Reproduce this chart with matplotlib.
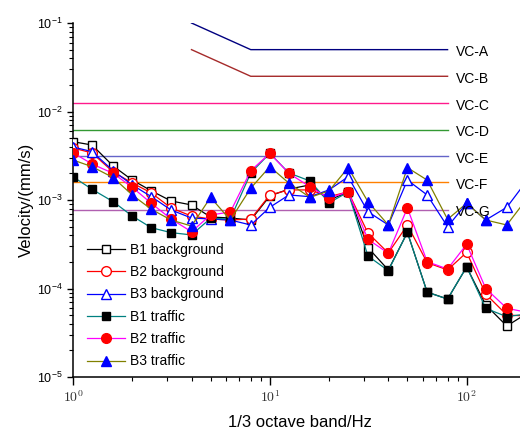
import matplotlib
matplotlib.use("Agg")
import matplotlib.pyplot as plt
from matplotlib.ticker import LogLocator, NullFormatter

plt.rcParams['font.family'] = ['Liberation Sans', 'DejaVu Sans']
plt.rcParams['mathtext.fontset'] = 'custom'
plt.rcParams['mathtext.rm'] = 'Liberation Sans'
plt.rcParams['mathtext.it'] = 'Liberation Sans:italic'
plt.rcParams['mathtext.bf'] = 'Liberation Sans:bold'

# 1/3 octave band centre frequencies (Hz)
freqs = [1, 1.25, 1.6, 2, 2.5, 3.15, 4, 5, 6.3, 8, 10, 12.5, 16, 20, 25,
         31.5, 40, 50, 63, 80, 100, 125, 160, 200]

# velocity (mm/s)
b1_bg = [4.56e-3, 4.18e-3, 2.42e-3, 1.68e-3, 1.27e-3, 9.75e-4, 8.79e-4, 6.43e-4,
         6.26e-4, 5.94e-4, 1.11e-3, 1.33e-3, 1.48e-3, 1.00e-3, 1.23e-3, 2.9e-4,
         1.62e-4, 4.3e-4, 9.12e-5, 7.60e-5, 1.75e-4, 6.52e-5, 3.77e-5, 5.15e-5]
b2_bg = [3.87e-3, 3.40e-3, 2.07e-3, 1.56e-3, 1.20e-3, 8.13e-4, 6.59e-4, 6.10e-4,
         5.94e-4, 6.10e-4, 1.14e-3, 1.30e-3, 1.30e-3, 1.09e-3, 1.24e-3, 4.24e-4,
         2.52e-4, 5.22e-4, 1.96e-4, 1.62e-4, 2.56e-4, 8.67e-5, 5.02e-5, 4.89e-5]
b3_bg = [3.97e-3, 3.52e-3, 2.14e-3, 1.48e-3, 1.09e-3, 7.71e-4, 6.26e-4, 6.10e-4,
         5.94e-4, 5.22e-4, 8.27e-4, 1.14e-3, 1.09e-3, 1.30e-3, 1.83e-3, 7.38e-4,
         5.22e-4, 1.68e-3, 1.14e-3, 4.99e-4, 9.18e-4, 5.94e-4, 8.27e-4, 1.6e-3]
b1_tr = [1.83e-3, 1.32e-3, 9.57e-4, 6.59e-4, 4.86e-4, 4.28e-4, 4.03e-4, 6.21e-4,
         6.10e-4, 2.02e-3, 3.37e-3, 2.02e-3, 1.64e-3, 9.31e-4, 1.23e-3, 2.33e-4,
         1.59e-4, 4.32e-4, 9.06e-5, 7.60e-5, 1.76e-4, 5.97e-5, 4.80e-5, 5.15e-5]
b2_tr = [3.42e-3, 2.55e-3, 2.00e-3, 1.39e-3, 9.18e-4, 6.10e-4, 4.38e-4, 6.77e-4,
         7.32e-4, 2.14e-3, 3.37e-3, 2.00e-3, 1.41e-3, 1.05e-3, 1.24e-3, 3.60e-4,
         2.50e-4, 8.13e-4, 2.01e-4, 1.66e-4, 3.16e-4, 1.00e-4, 5.97e-5, 5.42e-5]
b3_tr = [2.83e-3, 2.38e-3, 1.79e-3, 1.14e-3, 7.85e-4, 5.94e-4, 5.08e-4, 1.07e-3,
         5.94e-4, 1.36e-3, 2.38e-3, 1.55e-3, 1.07e-3, 1.27e-3, 2.32e-3, 9.57e-4,
         5.22e-4, 2.32e-3, 1.68e-3, 6.05e-4, 9.18e-4, 5.94e-4, 5.22e-4, 1.0e-3]

# VC criteria curves
vc_names = ["VC-A", "VC-B", "VC-C", "VC-D", "VC-E", "VC-F", "VC-G"]
vc_freq_ab = [4, 8, 80]
vc_a = [0.1, 0.05, 0.05]
vc_b = [0.05, 0.025, 0.025]
vc_freq_flat = [1, 80]
vc_flat = [0.0125, 0.00625, 0.003125, 0.0016, 0.00078]
vc_colors = ["#000080", "#a52a2a", "#ff1a8c", "#339933", "#6464c8", "#ff8000", "#b060b0"]

fig = plt.figure(figsize=(5.2, 4.32), dpi=100)
ax = fig.add_axes([73 / 520, 55 / 432, 452.9 / 520, 354 / 432])

vc_vals = []
ax.plot(vc_freq_ab, vc_a, color=vc_colors[0], lw=1, zorder=1)
ax.plot(vc_freq_ab, vc_b, color=vc_colors[1], lw=1, zorder=1)
vc_vals += [vc_a[-1], vc_b[-1]]
for v, c in zip(vc_flat, vc_colors[2:]):
    ax.plot(vc_freq_flat, [v, v], color=c, lw=1, zorder=1)
    vc_vals.append(v)
for name, v in zip(vc_names, vc_vals):
    ax.annotate(name, (88, v), xytext=(0, -2), textcoords="offset points",
                ha="left", va="center", fontsize=10, zorder=5)

series = [
    ("B1 background", b1_bg, "k", "s", "k", "white"),
    ("B2 background", b2_bg, "red", "o", "red", "white"),
    ("B3 background", b3_bg, "blue", "^", "blue", "white"),
    ("B1 traffic", b1_tr, "#008080", "s", "k", "k"),
    ("B2 traffic", b2_tr, "#ff00ff", "o", "red", "red"),
    ("B3 traffic", b3_tr, "#808000", "^", "blue", "blue"),
]
for label, vals, lc, mk, mec, mfc in series:
    ms = 6 if mk == "s" else 7
    ax.plot(freqs, vals, color=lc, lw=0.9, marker=mk, ms=ms, mec=mec, mfc=mfc,
            mew=1, label=label, zorder=3)

ax.set_xscale("log")
ax.set_yscale("log")
ax.set_xlim(1, 200)
ax.set_ylim(1e-5, 1e-1)
ax.spines["top"].set_visible(False)
ax.spines["right"].set_visible(False)
ax.yaxis.set_major_locator(LogLocator(base=10, numticks=10))
ax.xaxis.set_minor_formatter(NullFormatter())
ax.yaxis.set_minor_formatter(NullFormatter())
ax.tick_params(axis="y", which="major", direction="out", length=4.5, width=1, labelsize=9, pad=3)
ax.tick_params(axis="y", which="minor", direction="out", length=3, width=0.8)
ax.tick_params(axis="x", which="major", direction="out", length=6, width=1, labelsize=10, pad=3)
ax.tick_params(axis="x", which="minor", direction="out", length=3, width=0.8)
for s in ("left", "bottom"):
    ax.spines[s].set_linewidth(1.1)

ax.set_xticks([1, 10, 100], labels=[r"$10^{0}$", r"$10^{1}$", r"$10^{2}$"])
for lbl in ax.get_xticklabels():
    lbl.set_math_fontfamily("cm")
    lbl.set_color("#333333")

ax.set_xlabel("1/3 octave band/Hz", fontsize=12, labelpad=7)
ax.set_ylabel("Velocity/(mm/s)", fontsize=12, labelpad=2)

ax.legend(loc="upper left", bbox_to_anchor=(0.019, 0.395), frameon=False, fontsize=10,
          handlelength=2.7, handletextpad=0.4, labelspacing=0.6, borderaxespad=0)

fig.savefig("out.png", dpi=100)
